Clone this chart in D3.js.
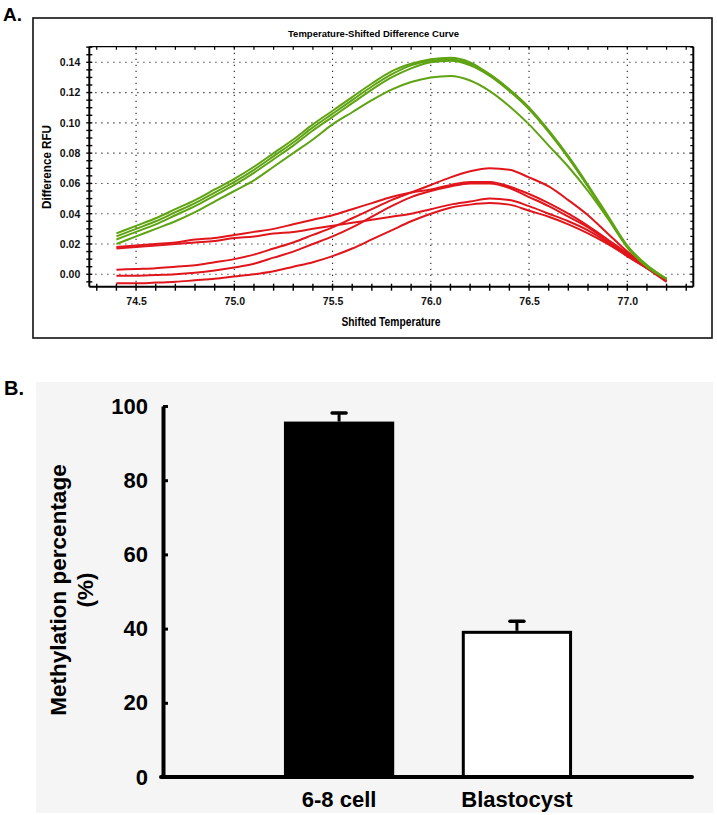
<!DOCTYPE html>
<html><head><meta charset="utf-8">
<script src="https://cdn.jsdelivr.net/npm/d3@7"></script>
<style>body{margin:0;background:#fff;}svg{display:block;}</style>
</head><body>
<svg id="c" width="717" height="815"></svg>
<script>
// ---------- Panel A data ----------
const temps = [74.4,74.5,74.6,74.7,74.8,74.9,75.0,75.1,75.2,75.3,75.4,75.5,75.6,75.7,75.8,75.9,76.0,76.1,76.2,76.3,76.4,76.5,76.6,76.7,76.8,76.9,77.0,77.1,77.2];
const green1 = [0.027,0.032,0.037,0.043,0.049,0.056,0.063,0.071,0.080,0.089,0.099,0.108,0.117,0.126,0.134,0.139,0.142,0.143,0.140,0.132,0.122,0.110,0.094,0.077,0.058,0.038,0.018,0.006,-0.003];
const green2 = [0.025,0.030,0.035,0.041,0.047,0.054,0.061,0.069,0.078,0.087,0.097,0.106,0.115,0.124,0.132,0.138,0.141,0.142,0.139,0.132,0.122,0.110,0.095,0.078,0.059,0.039,0.019,0.006,-0.003];
const green3 = [0.023,0.028,0.033,0.039,0.045,0.052,0.059,0.067,0.076,0.085,0.095,0.104,0.113,0.122,0.130,0.136,0.140,0.141,0.138,0.131,0.121,0.109,0.094,0.077,0.058,0.038,0.018,0.005,-0.003];
const green4 = [0.020,0.025,0.030,0.035,0.041,0.048,0.055,0.062,0.071,0.080,0.089,0.099,0.107,0.115,0.122,0.127,0.130,0.131,0.128,0.121,0.111,0.099,0.085,0.071,0.055,0.037,0.018,0.005,-0.003];
const red1 = [0.018,0.019,0.020,0.021,0.023,0.024,0.026,0.028,0.030,0.033,0.036,0.039,0.043,0.047,0.051,0.054,0.056,0.059,0.061,0.061,0.058,0.053,0.047,0.040,0.032,0.023,0.014,0.005,-0.004];
const red2 = [0.017,0.018,0.019,0.020,0.021,0.022,0.024,0.025,0.027,0.028,0.030,0.032,0.034,0.036,0.038,0.040,0.043,0.046,0.048,0.050,0.049,0.045,0.040,0.035,0.029,0.021,0.012,0.004,-0.004];
const red3 = [0.003,0.0035,0.004,0.005,0.006,0.008,0.010,0.013,0.017,0.021,0.026,0.031,0.037,0.043,0.049,0.054,0.059,0.064,0.068,0.070,0.069,0.064,0.058,0.049,0.039,0.027,0.015,0.005,-0.004];
const red4 = [-0.001,-0.001,-0.0005,0.000,0.001,0.0025,0.0045,0.007,0.011,0.015,0.020,0.025,0.031,0.038,0.045,0.051,0.055,0.058,0.060,0.060,0.057,0.051,0.045,0.038,0.031,0.022,0.013,0.004,-0.005];
const red5 = [-0.006,-0.006,-0.0055,-0.005,-0.004,-0.003,-0.0015,0.000,0.002,0.005,0.008,0.012,0.017,0.023,0.029,0.035,0.040,0.044,0.046,0.047,0.046,0.042,0.038,0.033,0.027,0.020,0.012,0.004,-0.004];
const greenSeries = [green4, green3, green2, green1];
const redSeries = [red1, red2, red3, red4, red5];
const xTickLabels = [74.5, 75.0, 75.5, 76.0, 76.5, 77.0];
const yTickLabels = [0.00, 0.02, 0.04, 0.06, 0.08, 0.10, 0.12, 0.14];

// ---------- Panel B data ----------
const categories = ["6-8 cell", "Blastocyst"];
const methylation = [95.8, 39.4];
const methylationErr = [2.3, 2.6];
const barTicks = [0, 20, 40, 60, 80, 100];

const svg = d3.select("#c");
const FONT = "'Liberation Sans', Arial, sans-serif";

// ================= Panel A =================
svg.append("text").attr("x", 3).attr("y", 21).text("A.")
  .attr("font-family", FONT).attr("font-weight", "bold").attr("font-size", 19);

svg.append("rect").attr("x", 33).attr("y", 18).attr("width", 679).attr("height", 320)
  .attr("fill", "#fff").attr("stroke", "#111").attr("stroke-width", 1.6);

const pL = 89.3, pR = 693.3, pT = 46.7, pB = 286.7;
const x = d3.scaleLinear().domain([74.262, 77.336]).range([pL, pR]);
const y = d3.scaleLinear().domain([-0.0082, 0.1503]).range([pB, pT]);

svg.append("text").attr("x", 373.5).attr("y", 37).attr("text-anchor", "middle")
  .attr("font-family", FONT).attr("font-weight", "bold").attr("font-size", 9.6)
  .attr("textLength", 171).attr("lengthAdjust", "spacingAndGlyphs")
  .text("Temperature-Shifted Difference Curve");

const gA = svg.append("g");
// dotted gridlines
gA.selectAll("line.gx").data(xTickLabels).join("line")
  .attr("x1", d => x(d)).attr("x2", d => x(d)).attr("y1", pT).attr("y2", pB)
  .attr("stroke", "#222").attr("stroke-width", 1.1).attr("stroke-dasharray", "1.2,4.8");
gA.selectAll("line.gy").data(yTickLabels).join("line")
  .attr("y1", d => y(d)).attr("y2", d => y(d)).attr("x1", pL).attr("x2", pR)
  .attr("stroke", "#222").attr("stroke-width", 1.1).attr("stroke-dasharray", "1.2,4.8");

// curves
const line = d3.line().x((d, i) => x(temps[i])).y(d => y(d)).curve(d3.curveMonotoneX);
gA.selectAll("path.red").data(redSeries).join("path")
  .attr("d", line).attr("fill", "none").attr("stroke", "#e0161c").attr("stroke-width", 2);
gA.selectAll("path.green").data(greenSeries).join("path")
  .attr("d", line).attr("fill", "none").attr("stroke", "#5fa313").attr("stroke-width", 2);

// frame / axes lines
gA.append("line").attr("x1", pL).attr("x2", pL).attr("y1", pT).attr("y2", pB).attr("stroke", "#000").attr("stroke-width", 2);
gA.append("line").attr("x1", pL).attr("x2", pR).attr("y1", pB).attr("y2", pB).attr("stroke", "#000").attr("stroke-width", 2);
gA.append("line").attr("x1", pR).attr("x2", pR).attr("y1", pT).attr("y2", pB).attr("stroke", "#000").attr("stroke-width", 2);
gA.append("line").attr("x1", pL).attr("x2", pR).attr("y1", pT).attr("y2", pT).attr("stroke", "#000").attr("stroke-width", 1.2);

// minor ticks
const xMinor = d3.range(74.3, 77.31, 0.1);
const yMinor = d3.range(-0.005, 0.1501, 0.005);
gA.selectAll("line.xt").data(xMinor).join("line")
  .attr("x1", d => x(d)).attr("x2", d => x(d)).attr("y1", pB - 3).attr("y2", pB + 4)
  .attr("stroke", "#000").attr("stroke-width", 1.4);
gA.selectAll("line.xtt").data(xMinor).join("line")
  .attr("x1", d => x(d)).attr("x2", d => x(d)).attr("y1", pT).attr("y2", pT + 3)
  .attr("stroke", "#000").attr("stroke-width", 1.2);
gA.selectAll("line.yt").data(yMinor).join("line")
  .attr("x1", pL - 3).attr("x2", pL + 3).attr("y1", d => y(d)).attr("y2", d => y(d))
  .attr("stroke", "#000").attr("stroke-width", 1.4);
gA.selectAll("line.ytr").data(yMinor).join("line")
  .attr("x1", pR - 3).attr("x2", pR).attr("y1", d => y(d)).attr("y2", d => y(d))
  .attr("stroke", "#000").attr("stroke-width", 1.2);

// tick labels via d3 axes
const axX = svg.append("g").attr("transform", `translate(0,${pB})`)
  .call(d3.axisBottom(x).tickValues(xTickLabels).tickFormat(d3.format(".1f")).tickSize(0).tickPadding(11));
const axY = svg.append("g").attr("transform", `translate(${pL},0)`)
  .call(d3.axisLeft(y).tickValues(yTickLabels).tickFormat(d3.format(".2f")).tickSize(0).tickPadding(9));
[axX, axY].forEach(a => {
  a.select(".domain").remove();
  a.selectAll("text").attr("font-family", FONT).attr("font-weight", "bold").attr("font-size", 10.5).attr("fill", "#111");
});

svg.append("text").attr("x", 391).attr("y", 326).attr("text-anchor", "middle")
  .attr("font-family", FONT).attr("font-weight", "bold").attr("font-size", 12.5)
  .attr("textLength", 99).attr("lengthAdjust", "spacingAndGlyphs").text("Shifted Temperature");
svg.append("text").attr("transform", "translate(51,167) rotate(-90)").attr("text-anchor", "middle")
  .attr("font-family", FONT).attr("font-weight", "bold").attr("font-size", 12.5)
  .attr("textLength", 84).attr("lengthAdjust", "spacingAndGlyphs").text("Difference RFU");

// ================= Panel B =================
svg.append("rect").attr("x", 36).attr("y", 382).attr("width", 677).attr("height", 431).attr("fill", "#f5f5f5");
svg.append("text").attr("x", 4).attr("y", 395).text("B.")
  .attr("font-family", FONT).attr("font-weight", "bold").attr("font-size", 20);

const yB = d3.scaleLinear().domain([0, 100]).range([777, 406]);
const xB = d3.scaleBand().domain(categories).range([163, 693]).paddingInner(0.38).paddingOuter(0.68);

const gB = svg.append("g");
gB.selectAll("rect.bar").data(categories).join("rect")
  .attr("x", (d, i) => xB(d) + (i === 1 ? 1.5 : 0))
  .attr("width", (d, i) => xB.bandwidth() - (i === 1 ? 3 : 0))
  .attr("y", (d, i) => yB(methylation[i]) + (i === 1 ? 1.5 : 0))
  .attr("height", (d, i) => yB(0) - yB(methylation[i]) - (i === 1 ? 1.5 : 0))
  .attr("fill", (d, i) => i === 0 ? "#000" : "#fff")
  .attr("stroke", "#000").attr("stroke-width", (d, i) => i === 0 ? 0 : 3);
// error bars
gB.selectAll("line.err").data(categories).join("line")
  .attr("x1", d => xB(d) + xB.bandwidth() / 2).attr("x2", d => xB(d) + xB.bandwidth() / 2)
  .attr("y1", (d, i) => yB(methylation[i])).attr("y2", (d, i) => yB(methylation[i] + methylationErr[i]))
  .attr("stroke", "#000").attr("stroke-width", 3);
gB.selectAll("line.cap").data(categories).join("line")
  .attr("x1", d => xB(d) + xB.bandwidth() / 2 - 7).attr("x2", d => xB(d) + xB.bandwidth() / 2 + 7)
  .attr("y1", (d, i) => yB(methylation[i] + methylationErr[i])).attr("y2", (d, i) => yB(methylation[i] + methylationErr[i]))
  .attr("stroke", "#000").attr("stroke-width", 3.5).attr("stroke-linecap", "round");

// axes
const axYB = svg.append("g").attr("transform", "translate(163,0)")
  .call(d3.axisLeft(yB).tickValues(barTicks).tickSize(-5).tickSizeOuter(0).tickPadding(15));
axYB.select(".domain").attr("stroke-width", 4).attr("stroke", "#000");
axYB.selectAll(".tick line").attr("stroke-width", 3).attr("stroke", "#000");
axYB.selectAll("text").attr("font-family", FONT).attr("font-weight", "bold").attr("font-size", 22).attr("fill", "#000");
svg.append("line").attr("x1", 161).attr("x2", 692).attr("y1", 777).attr("y2", 777)
  .attr("stroke", "#000").attr("stroke-width", 4).attr("stroke-linecap", "round");

const axXB = svg.append("g").attr("transform", "translate(0,777)")
  .call(d3.axisBottom(xB).tickSize(0).tickPadding(14));
axXB.select(".domain").remove();
axXB.selectAll("text").attr("font-family", FONT).attr("font-weight", "bold").attr("font-size", 22).attr("fill", "#000");

svg.append("text").attr("transform", "translate(66,590) rotate(-90)").attr("text-anchor", "middle")
  .attr("font-family", FONT).attr("font-weight", "bold").attr("font-size", 22.5).text("Methylation percentage");
svg.append("text").attr("transform", "translate(93,590) rotate(-90)").attr("text-anchor", "middle")
  .attr("font-family", FONT).attr("font-weight", "bold").attr("font-size", 22.5).text("(%)");
</script>
</body></html>
